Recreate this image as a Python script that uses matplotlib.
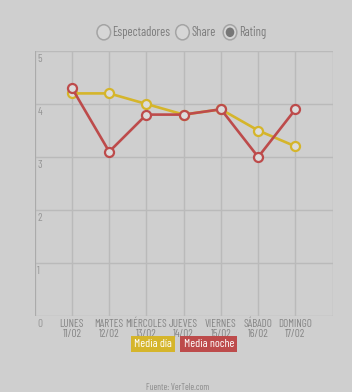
import matplotlib
matplotlib.use("Agg")
import matplotlib.pyplot as plt
from matplotlib.patches import Circle

days = ["LUNES", "MARTES", "MIÉRCOLES", "JUEVES", "VIERNES", "SÁBADO", "DOMINGO"]
dates = ["11/02", "12/02", "13/02", "14/02", "15/02", "16/02", "17/02"]
media_dia = [4.2, 4.2, 4.0, 3.8, 3.9, 3.5, 3.2]
media_noche = [4.3, 3.1, 3.8, 3.8, 3.9, 3.0, 3.9]
series_names = ["Media día", "Media noche"]
options = ["Espectadores", "Share", "Rating"]
yticks = [0, 1, 2, 3, 4, 5]

BG = "#cfcfcf"
GRID = "#bababa"
TXT = "#868686"
YEL = "#d5b52b"
RED = "#bd4b4b"
FONT = ["Barlow Condensed", "Archivo Narrow", "DejaVu Sans"]
FW = 400

W, H = 352, 392
fig = plt.figure(figsize=(W / 100, H / 100), dpi=100, facecolor=BG)
ax = fig.add_axes([34.7 / W, 1 - 316 / H, 298 / W, 265 / H], facecolor=BG)

x = list(range(len(days)))
ax.set_xlim(-1, len(days))
ax.set_ylim(0, 5)
for s in ax.spines.values():
    s.set_visible(False)
ax.set_xticks([])
ax.set_yticks([])
for v in yticks:
    ax.axhline(v, color=GRID, lw=1, zorder=0)
    ax.text(-0.93, v - 0.05, str(v), ha="left", va="top", color="#969696", fontsize=8,
            family=FONT, fontweight=FW)
for xi in range(-1, len(days) + 1):
    ax.axvline(xi, color=GRID, lw=1, zorder=0)
ax.axvline(-1, color="#a8a8a8", lw=1.2, zorder=0)

for vals, col in [(media_dia, YEL), (media_noche, RED)]:
    ax.plot(x, vals, color=col, lw=1.9, zorder=3, marker="o", ms=6.5,
            mfc="#dcdcdc", mec=col, mew=1.6, solid_capstyle="round")

for xi, d, dt in zip(x, days, dates):
    ax.text(xi, -0.05, d + "\n" + dt, ha="center", va="top", color=TXT,
            fontsize=8, family=FONT, fontweight=FW, linespacing=1.0)

# legend boxes
fig.text(134 / W, 1 - 344 / H, series_names[0], color="white", fontsize=8.5,
         family=FONT, fontweight=FW, ha="left", va="center", zorder=5,
         bbox=dict(boxstyle="square,pad=0.28", fc=YEL, ec="none"))
fig.text(183.5 / W, 1 - 344 / H, series_names[1], color="white", fontsize=8.5,
         family=FONT, fontweight=FW, ha="left", va="center", zorder=5,
         bbox=dict(boxstyle="square,pad=0.28", fc=RED, ec="none"))

# radio buttons
ry = 1 - 32.3 / H
positions = [(103.8, 112.5), (182.5, 191.5), (230, 239)]
for i, (name, (cx, tx)) in enumerate(zip(options, positions)):
    c = Circle((cx / W, ry), 6.8 / W, transform=fig.transFigure, fc="#d6d6d6", ec="#a4a4a4", lw=1.1)
    fig.add_artist(c)
    if name == "Rating":
        c2 = Circle((cx / W, ry), 4.3 / W, transform=fig.transFigure, fc="#777777", ec="none")
        fig.add_artist(c2)
    fig.text(tx / W, ry, name, ha="left", va="center", color="#7c7c7c", fontsize=9,
             family=FONT, fontweight=FW)

fig.text(178 / W, 1 - 387 / H, "Fuente: VerTele.com", ha="center", va="center", color="#8a8a8a",
         fontsize=6.5, family=FONT, fontweight=FW)

fig.savefig("out.png", dpi=100, facecolor=BG)
